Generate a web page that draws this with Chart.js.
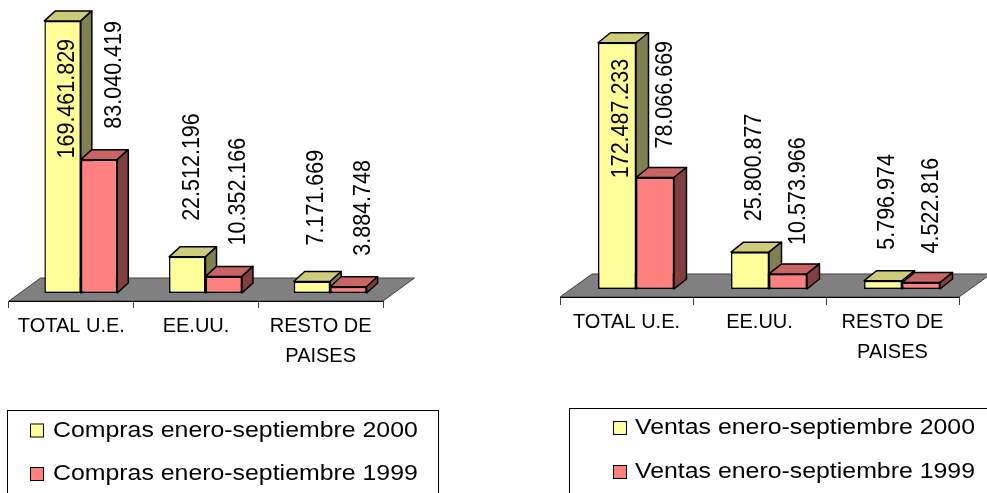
<!DOCTYPE html>
<html lang="es">
<head>
<meta charset="utf-8">
<title>Compras y ventas enero-septiembre</title>
<script src="https://cdn.jsdelivr.net/npm/chart.js@4.4.0/dist/chart.umd.min.js"></script>
<style>
  html, body { margin: 0; padding: 0; background: #fff; overflow: hidden; }
  #izq { position: absolute; left: 0; top: 0; }
  #der { position: absolute; left: 540px; top: 0; }
</style>
</head>
<body>
<canvas id="izq" width="480" height="493"></canvas>
<canvas id="der" width="447" height="493"></canvas>
<script>
// datos
const categorias = ['TOTAL U.E.', 'EE.UU.', ['RESTO DE', 'PAISES']];
const compras2000 = [169461829, 22512196, 7171669];
const compras1999 = [83040419, 10352166, 3884748];
const ventas2000 = [172487233, 25800877, 5796974];
const ventas1999 = [78066669, 10573966, 4522816];
const leyendaCompras = ['Compras enero-septiembre 2000', 'Compras enero-septiembre 1999'];
const leyendaVentas = ['Ventas enero-septiembre 2000', 'Ventas enero-septiembre 1999'];

// colores de las caras (frente, arriba, lado)
const colores = ['#FFFF99', '#FF8080'];
const coloresArriba = ['#CCCC7A', '#C86464'];
const coloresLado = ['#808050', '#804040'];
const fuente = '"Liberation Sans", Arial, sans-serif';

function miles(n) {
  return String(n).replace(/\B(?=(\d{3})+(?!\d))/g, '.');
}

function poligono(ctx, pts, relleno) {
  ctx.beginPath();
  ctx.moveTo(pts[0][0], pts[0][1]);
  for (let k = 1; k < pts.length; k++) ctx.lineTo(pts[k][0], pts[k][1]);
  ctx.closePath();
  ctx.fillStyle = relleno;
  ctx.fill();
  ctx.stroke();
}

function grafico(id, serie1, serie2, leyenda, est) {
  // dibuja piso, caras 3D, etiquetas giradas y leyenda con recuadro
  const plugin3d = {
    id: 'barras3d',
    beforeDatasetsDraw(chart) {
      const ctx = chart.ctx, a = chart.chartArea;
      ctx.save();
      ctx.strokeStyle = '#404040';
      ctx.lineWidth = 1;
      poligono(ctx, [[a.left, a.bottom], [a.left + est.piso[0], a.bottom - est.piso[1]],
        [a.right + est.piso[0], a.bottom - est.piso[1]], [a.right, a.bottom]], '#808080');
      ctx.beginPath();
      ctx.moveTo(a.left, a.bottom + 0.5);
      ctx.lineTo(a.right, a.bottom + 0.5);
      ctx.strokeStyle = '#000';
      ctx.stroke();

      // caras de arriba y de lado, antes de los frentes
      const bx = est.fondo[0], by = est.fondo[1];
      ctx.translate(est.mover[0], -est.mover[1]);
      ctx.strokeStyle = '#000';
      ctx.lineWidth = 1.5;
      ctx.lineJoin = 'round';
      chart.data.datasets.forEach((ds, i) => {
        chart.getDatasetMeta(i).data.forEach(el => {
          const l = el.x - el.width / 2, r = el.x + el.width / 2, t = el.y, b = el.base;
          poligono(ctx, [[l, t], [l + bx, t - by], [r + bx, t - by], [r, t]], coloresArriba[i]);
          poligono(ctx, [[r, t], [r + bx, t - by], [r + bx, b - by], [r, b]], coloresLado[i]);
        });
      });
      ctx.restore();
    },
    beforeDatasetDraw(chart) {
      chart.ctx.save();
      chart.ctx.translate(est.mover[0], -est.mover[1]);
    },
    afterDatasetDraw(chart) {
      chart.ctx.restore();
    },
    afterDatasetsDraw(chart) {
      const ctx = chart.ctx;
      ctx.save();
      ctx.font = '21.5px ' + fuente;
      ctx.fillStyle = '#000';
      ctx.textAlign = 'left';
      ctx.textBaseline = 'middle';
      chart.data.datasets.forEach((ds, i) => {
        chart.getDatasetMeta(i).data.forEach((el, j) => {
          const txt = miles(ds.data[j]);
          const w = ctx.measureText(txt).width;
          const arriba = el.y - est.mover[1];
          const cx = el.x + est.mover[0] + est.etqX[i];
          let inicio = arriba - est.hueco[i];
          if (inicio - w < 0) inicio = arriba + est.dentro + w;
          ctx.save();
          ctx.translate(cx, inicio);
          ctx.rotate(-Math.PI / 2);
          ctx.scale(1, 1.1);
          ctx.fillText(txt, 0, 0);
          ctx.restore();
        });
      });
      ctx.restore();
    },
    afterDraw(chart) {
      const ctx = chart.ctx, L = est.ley;
      ctx.save();
      ctx.strokeStyle = '#000';
      ctx.lineWidth = 1;
      ctx.strokeRect(L.x + 0.5, L.y + 0.5, L.w, 200);
      ctx.font = '22px ' + fuente;
      ctx.textBaseline = 'middle';
      chart.data.datasets.forEach((ds, i) => {
        const fy = L.filas[i];
        ctx.fillStyle = ds.backgroundColor;
        ctx.fillRect(L.sx, fy - 7, 14, 14);
        ctx.strokeRect(L.sx + 0.5, fy - 6.5, 13, 13);
        ctx.fillStyle = '#000';
        ctx.save();
        ctx.translate(L.tx, fy);
        ctx.scale(1.13, 1);
        ctx.fillText(ds.label, 0, 0);
        ctx.restore();
      });
      ctx.restore();
    }
  };

  return new Chart(document.getElementById(id), {
    type: 'bar',
    data: {
      labels: categorias,
      datasets: [
        { label: leyenda[0], data: serie1, backgroundColor: colores[0], borderColor: '#000',
          borderWidth: 1.5, borderSkipped: false,
          categoryPercentage: est.ancho, barPercentage: 1 },
        { label: leyenda[1], data: serie2, backgroundColor: colores[1], borderColor: '#000',
          borderWidth: 1.5, borderSkipped: false,
          categoryPercentage: est.ancho, barPercentage: 1 }
      ]
    },
    options: {
      responsive: false,
      animation: false,
      layout: { padding: est.padding },
      scales: {
        x: {
          offset: true,
          grid: { offset: true, drawOnChartArea: false, tickLength: est.marca, color: '#404040' },
          border: { display: false },
          ticks: {
            color: '#000', padding: est.sep, maxRotation: 0, autoSkip: false,
            font: { family: fuente, size: 20, lineHeight: 1.5 }
          },
          afterFit(s) { s.height = 100; }
        },
        y: { display: false, min: 0, max: 180000000 }
      },
      plugins: { legend: { display: false }, tooltip: { enabled: false } }
    },
    plugins: [plugin3d]
  });
}

grafico('izq', compras2000, compras1999, leyendaCompras, {
  padding: { left: 9, right: 97, top: 12, bottom: 92 },
  ancho: 0.585, marca: 7, sep: 3,
  mover: [9.5, 8], fondo: [11, 10], piso: [31.5, 23],
  etqX: [5, 15], hueco: [36, 31], dentro: 18,
  ley: { x: 7, y: 410, w: 431, sx: 30, tx: 53, filas: [430.5, 474] }
});

grafico('der', ventas2000, ventas1999, leyendaVentas, {
  padding: { left: 20, right: 28, top: 40, bottom: 96 },
  ancho: 0.571, marca: 8, sep: 2,
  mover: [9.5, 8], fondo: [12.5, 10], piso: [32, 23],
  etqX: [4.5, 11], hueco: [31, 29], dentro: 16,
  ley: { x: 29, y: 408, w: 430, sx: 73, tx: 95, filas: [428, 472] }
});
</script>
</body>
</html>
